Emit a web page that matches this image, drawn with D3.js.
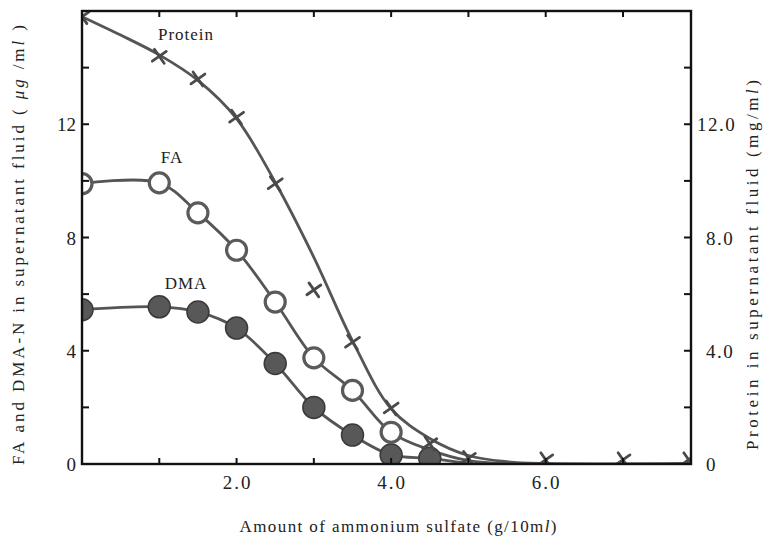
<!DOCTYPE html>
<html>
<head>
<meta charset="utf-8">
<script src="https://cdn.jsdelivr.net/npm/d3@7/dist/d3.min.js"></script>
<style>
  html, body { margin: 0; padding: 0; background: #fff; }
  svg { display: block; font-family: "Liberation Serif", "DejaVu Serif", serif; }
</style>
</head>
<body>
<svg id="chart" width="771" height="540"></svg>
<script>
// ---- data ----
const xTicks = [2.0, 4.0, 6.0];
const xMinorTicks = [1, 2, 3, 4, 5, 6, 7];
const yLeftTicks = [0, 4, 8, 12];
const yRightTicks = [0, 4, 8, 12];
const yMinorTicks = [2, 4, 6, 8, 10, 12, 14];

// Protein (mg/ml) measured points
const proteinX = [0, 1.0, 1.5, 2.0, 2.5, 3.0, 3.5, 4.0, 4.5, 5.0, 6.0, 7.0, 7.85];
const proteinY = [15.8, 14.4, 13.6, 12.25, 9.9, 6.15, 4.3, 1.98, 0.72, 0.2, 0.15, 0.15, 0.15];
// Protein fitted curve as drawn
const proteinCurveX = [0, 0.5, 1.0, 1.5, 2.0, 2.5, 3.0, 3.5, 4.0, 4.5, 5.0, 5.5, 6.0, 7.88];
const proteinCurveY = [15.8, 15.15, 14.45, 13.55, 12.2, 9.95, 7.3, 4.35, 1.95, 0.9, 0.3, 0.08, 0.02, 0.02];

// FA (µg/ml) open circles
const faX = [0, 1.0, 1.5, 2.0, 2.5, 3.0, 3.5, 4.0];
const faY = [9.9, 9.93, 8.87, 7.55, 5.72, 3.75, 2.6, 1.12];
const faTailX = [4.5, 5.0, 5.5];
const faTailY = [0.5, 0.12, 0.02];

// DMA-N (µg/ml) filled circles
const dmaX = [0, 1.0, 1.5, 2.0, 2.5, 3.0, 3.5, 4.0, 4.5];
const dmaY = [5.45, 5.55, 5.37, 4.8, 3.55, 2.0, 1.02, 0.32, 0.2];
const dmaTailX = [5.0];
const dmaTailY = [0.02];

// ---- layout ----
const W = 771, H = 540;
const svg = d3.select("#chart");
const L = 82, R = 691, T = 11, B = 464;
const x = d3.scaleLinear().domain([0, 7.88]).range([L, R]);
const y = d3.scaleLinear().domain([0, 16]).range([B, T]);
const yR = d3.scaleLinear().domain([0, 16]).range([B, T]);

const lineCol = "#555";

const plot = svg.append("g");

const line = d3.line().x(d => x(d[0])).y(d => y(d[1])).curve(d3.curveCatmullRom.alpha(0.5));

// Protein curve
plot.append("path")
  .datum(proteinCurveX.map((v, i) => [v, proteinCurveY[i]]))
  .attr("d", line).attr("fill", "none").attr("stroke", lineCol).attr("stroke-width", 2.8);

// FA line
plot.append("path")
  .datum(faX.map((v, i) => [v, faY[i]]).concat(faTailX.map((v, i) => [v, faTailY[i]])))
  .attr("d", line).attr("fill", "none").attr("stroke", lineCol).attr("stroke-width", 2.8);

// DMA line
plot.append("path")
  .datum(dmaX.map((v, i) => [v, dmaY[i]]).concat(dmaTailX.map((v, i) => [v, dmaTailY[i]])))
  .attr("d", line).attr("fill", "none").attr("stroke", lineCol).attr("stroke-width", 2.8);

// DMA filled circles
plot.selectAll(".dma").data(dmaX.map((v, i) => [v, dmaY[i]])).enter().append("circle")
  .attr("cx", d => x(d[0])).attr("cy", d => y(d[1])).attr("r", 11)
  .attr("fill", "#585858").attr("stroke", "#3a3a3a").attr("stroke-width", 1.5);

// FA open circles
plot.selectAll(".fa").data(faX.map((v, i) => [v, faY[i]])).enter().append("circle")
  .attr("cx", d => x(d[0])).attr("cy", d => y(d[1])).attr("r", 10)
  .attr("fill", "#fff").attr("stroke", "#5a5a5a").attr("stroke-width", 3.2);

// Protein crosses
const crossPath = (cx, cy) => {
  const a1 = 35 * Math.PI / 180, a2 = 125 * Math.PI / 180, h = 8.5;
  return `M${cx - h * Math.cos(a1)},${cy + h * Math.sin(a1)}L${cx + h * Math.cos(a1)},${cy - h * Math.sin(a1)}` +
         `M${cx - h * Math.cos(a2)},${cy + h * Math.sin(a2)}L${cx + h * Math.cos(a2)},${cy - h * Math.sin(a2)}`;
};
plot.selectAll(".prot").data(proteinX.map((v, i) => [v, proteinY[i]])).enter().append("path")
  .attr("d", d => crossPath(x(d[0]), yR(d[1])))
  .attr("fill", "none").attr("stroke", "#4a4a4a").attr("stroke-width", 2.8).attr("stroke-linecap", "round");

// white masks outside the plot area (clip)
const mask = svg.append("g").attr("fill", "#fff");
mask.append("rect").attr("x", 0).attr("y", 0).attr("width", L).attr("height", H);
mask.append("rect").attr("x", R).attr("y", 0).attr("width", W - R).attr("height", H);
mask.append("rect").attr("x", 0).attr("y", 0).attr("width", W).attr("height", T);
mask.append("rect").attr("x", 0).attr("y", B).attr("width", W).attr("height", H - B);

// ---- frame & ticks ----
svg.append("rect").attr("x", L).attr("y", T).attr("width", R - L).attr("height", B - T)
  .attr("fill", "none").attr("stroke", "#111").attr("stroke-width", 2.4);

const tk = svg.append("g").attr("stroke", "#111").attr("stroke-width", 2);
xMinorTicks.forEach(v => {
  tk.append("line").attr("x1", x(v)).attr("x2", x(v)).attr("y1", B).attr("y2", B - 6);
  tk.append("line").attr("x1", x(v)).attr("x2", x(v)).attr("y1", T).attr("y2", T + 6);
});
yMinorTicks.forEach(v => {
  tk.append("line").attr("x1", L).attr("x2", L + 7).attr("y1", y(v)).attr("y2", y(v));
  tk.append("line").attr("x1", R).attr("x2", R - 7).attr("y1", yR(v)).attr("y2", yR(v));
});

const fs = 19;
const txtCol = "#222";
// x tick labels
svg.selectAll(".xl").data(xTicks).enter().append("text")
  .attr("x", d => x(d) + 1).attr("y", 489).attr("text-anchor", "middle")
  .attr("font-size", fs).attr("letter-spacing", 2).attr("fill", txtCol).text(d => d.toFixed(1));

// left tick labels
svg.selectAll(".yl").data(yLeftTicks).enter().append("text")
  .attr("x", 76).attr("y", d => y(d) + 7).attr("text-anchor", "end")
  .attr("font-size", fs).attr("fill", txtCol).text(d => d);

// right tick labels
svg.selectAll(".yr").data(yRightTicks).enter().append("text")
  .attr("x", d => d >= 10 ? 697 : 706).attr("y", d => yR(d) + 7).attr("text-anchor", "start")
  .attr("font-size", fs).attr("letter-spacing", 1.5).attr("fill", txtCol).text(d => d === 0 ? "0" : d.toFixed(1));

// series labels
const lbl = [["Protein", 186, 40], ["FA", 172, 163], ["DMA", 186, 289]];
lbl.forEach(l => svg.append("text").attr("x", l[1]).attr("y", l[2]).attr("text-anchor", "middle")
  .attr("font-size", 17).attr("fill", txtCol).attr("letter-spacing", 1).text(l[0]));

// x title
const xt = svg.append("text").attr("x", 398).attr("y", 532).attr("text-anchor", "middle")
  .attr("font-size", 17).attr("fill", txtCol)
  .attr("textLength", 317).attr("lengthAdjust", "spacing");
xt.append("tspan").text("Amount of ammonium sulfate (g/10m");
xt.append("tspan").attr("font-style", "italic").text("l");
xt.append("tspan").text(")");

// left title
const lt = svg.append("text").attr("transform", "translate(24,245) rotate(-90)")
  .attr("text-anchor", "middle").attr("font-size", 17).attr("fill", txtCol)
  .attr("textLength", 440).attr("lengthAdjust", "spacing");
lt.append("tspan").text("FA and DMA-N in supernatant fluid ( ");
lt.append("tspan").attr("font-style", "italic").text("μg");
lt.append("tspan").text(" /m");
lt.append("tspan").attr("font-style", "italic").text("l");
lt.append("tspan").text(" )");

// right title
const rt = svg.append("text").attr("transform", "translate(758,265) rotate(-90)")
  .attr("text-anchor", "middle").attr("font-size", 17).attr("fill", txtCol)
  .attr("textLength", 370).attr("lengthAdjust", "spacing");
rt.append("tspan").text("Protein in supernatant fluid (mg/m");
rt.append("tspan").attr("font-style", "italic").text("l");
rt.append("tspan").text(")");
</script>
</body>
</html>
